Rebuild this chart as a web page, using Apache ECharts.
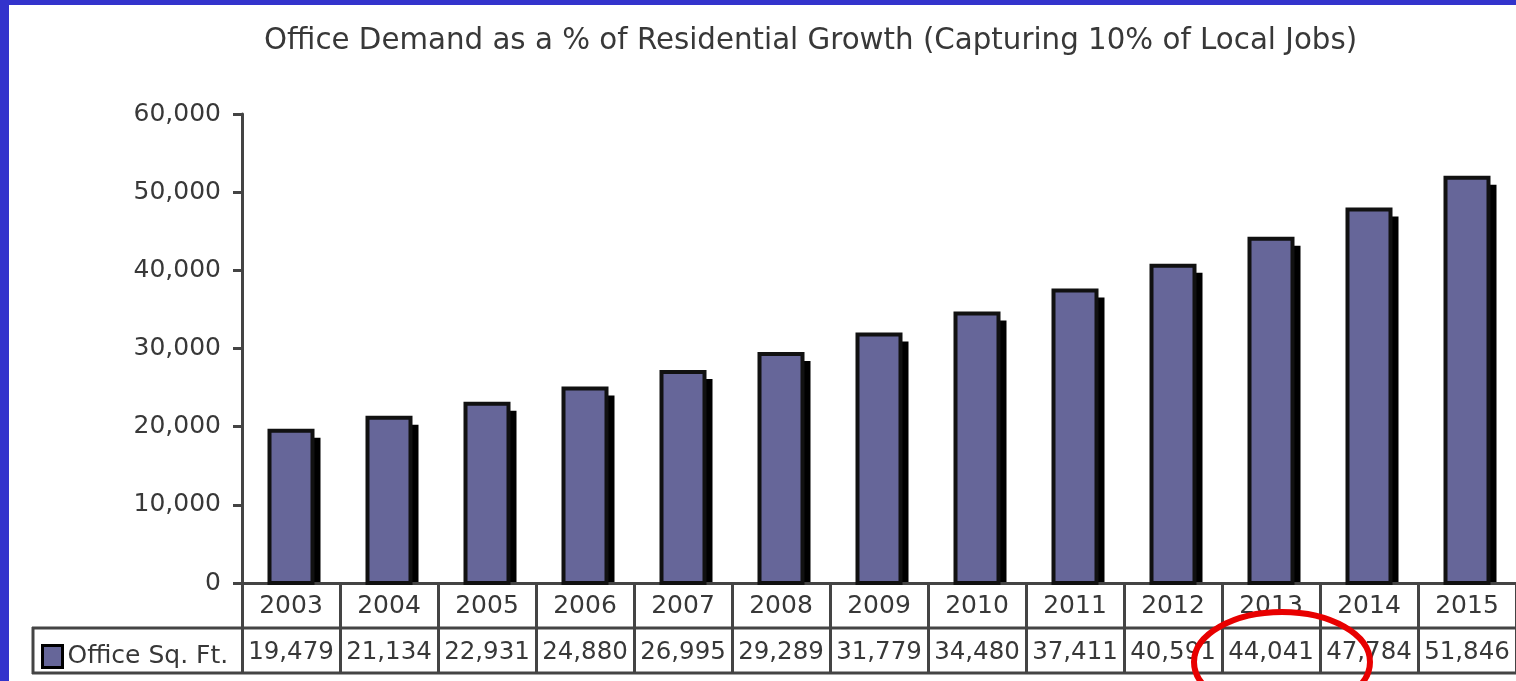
<!DOCTYPE html>
<html>
<head>
<meta charset="utf-8">
<script src="https://cdn.jsdelivr.net/npm/echarts@6/dist/echarts.min.js"></script>
<style>
html,body{margin:0;padding:0;background:#fff;}
#chart{width:1516px;height:681px;}
</style>
</head>
<body>
<div id="chart"></div>
<script>
const titleText = 'Office Demand as a % of Residential Growth (Capturing 10% of Local Jobs)';
const seriesName = 'Office Sq. Ft.';
const years = ['2003','2004','2005','2006','2007','2008','2009','2010','2011','2012','2013','2014','2015'];
const officeSqFt = [19479, 21134, 22931, 24880, 26995, 29289, 31779, 34480, 37411, 40591, 44041, 47784, 51846];
const yTicks = [0, 10000, 20000, 30000, 40000, 50000, 60000];

const fmt = v => Number(v).toLocaleString('en-US');
const FONT = 'DejaVu Sans';
const TXT = '#383838';
const LINE = '#444';
const FS = 25;
const BAR_W = 43;
const SH = 8;

const chart = echarts.init(document.getElementById('chart'));
chart.setOption({
  backgroundColor: '#fff',
  animation: false,
  title: {
    text: titleText,
    left: 259, top: 22,
    textStyle: {fontFamily: FONT, fontSize: 29.3, fontWeight: 'normal', color: TXT}
  },
  legend: {
    left: 36, top: 639,
    icon: 'rect',
    itemWidth: 20, itemHeight: 22, itemGap: 6,
    data: [seriesName],
    itemStyle: {color: '#666699', borderColor: '#000', borderWidth: 3},
    textStyle: {fontFamily: FONT, fontSize: FS, color: TXT}
  },
  grid: {left: 242, top: 114, bottom: 98, width: 1283, containLabel: false},
  xAxis: [{
    type: 'category',
    data: years,
    position: 'bottom',
    axisLine: {show: true, lineStyle: {color: LINE, width: 3}},
    axisTick: {show: true, length: 90, interval: 0, lineStyle: {color: LINE, width: 3}},
    axisLabel: {fontFamily: FONT, fontSize: FS, color: TXT, margin: 11, interval: 0, hideOverlap: false}
  }, {
    type: 'category',
    data: officeSqFt.map(fmt),
    position: 'bottom',
    offset: 44,
    axisLine: {show: false},
    axisTick: {show: false},
    axisLabel: {fontFamily: FONT, fontSize: 24.5, color: TXT, margin: 13, interval: 0, hideOverlap: false}
  }],
  yAxis: {
    type: 'value',
    min: yTicks[0], max: yTicks[yTicks.length - 1], interval: yTicks[1] - yTicks[0],
    axisLine: {show: true, lineStyle: {color: LINE, width: 3}},
    axisTick: {show: true, length: 9, lineStyle: {color: LINE, width: 3}},
    splitLine: {show: false},
    axisLabel: {fontFamily: FONT, fontSize: FS, color: TXT, margin: 21, formatter: v => fmt(v)}
  },
  series: [{
    name: seriesName,
    type: 'custom',
    xAxisIndex: 0,
    itemStyle: {color: '#666699', borderColor: '#000', borderWidth: 3},
    data: officeSqFt.map((v, i) => [i, v]),
    encode: {x: 0, y: 1},
    renderItem: function (params, api) {
      const top = api.coord([api.value(0), api.value(1)]);
      const base = api.coord([api.value(0), 0]);
      const x0 = top[0] - BAR_W / 2;
      return {
        type: 'group',
        children: [{
          type: 'rect',
          shape: {x: x0 + SH, y: top[1] + SH - 1, width: BAR_W, height: base[1] - top[1] - SH},
          style: {fill: '#000'}
        }, {
          type: 'rect',
          shape: {x: x0, y: top[1], width: BAR_W, height: base[1] - top[1]},
          style: {fill: '#666699', stroke: '#111', lineWidth: 4}
        }]
      };
    }
  }],
  graphic: [
    {type: 'line', shape: {x1: 32, y1: 628, x2: 1516, y2: 628}, style: {stroke: LINE, lineWidth: 3}, z: 10},
    {type: 'line', shape: {x1: 32, y1: 673, x2: 1516, y2: 673}, style: {stroke: LINE, lineWidth: 3}, z: 10},
    {type: 'line', shape: {x1: 33, y1: 627, x2: 33, y2: 674}, style: {stroke: LINE, lineWidth: 3}, z: 10},
    {type: 'ellipse', shape: {cx: 1282, cy: 662, rx: 88, ry: 50}, style: {fill: 'none', stroke: '#e80000', lineWidth: 6}, z: 20},
    {type: 'rect', shape: {x: 0, y: 0, width: 9, height: 681}, style: {fill: '#3333cc'}, z: 30},
    {type: 'rect', shape: {x: 0, y: 0, width: 1516, height: 5}, style: {fill: '#3333cc'}, z: 30}
  ]
});
</script>
</body>
</html>
